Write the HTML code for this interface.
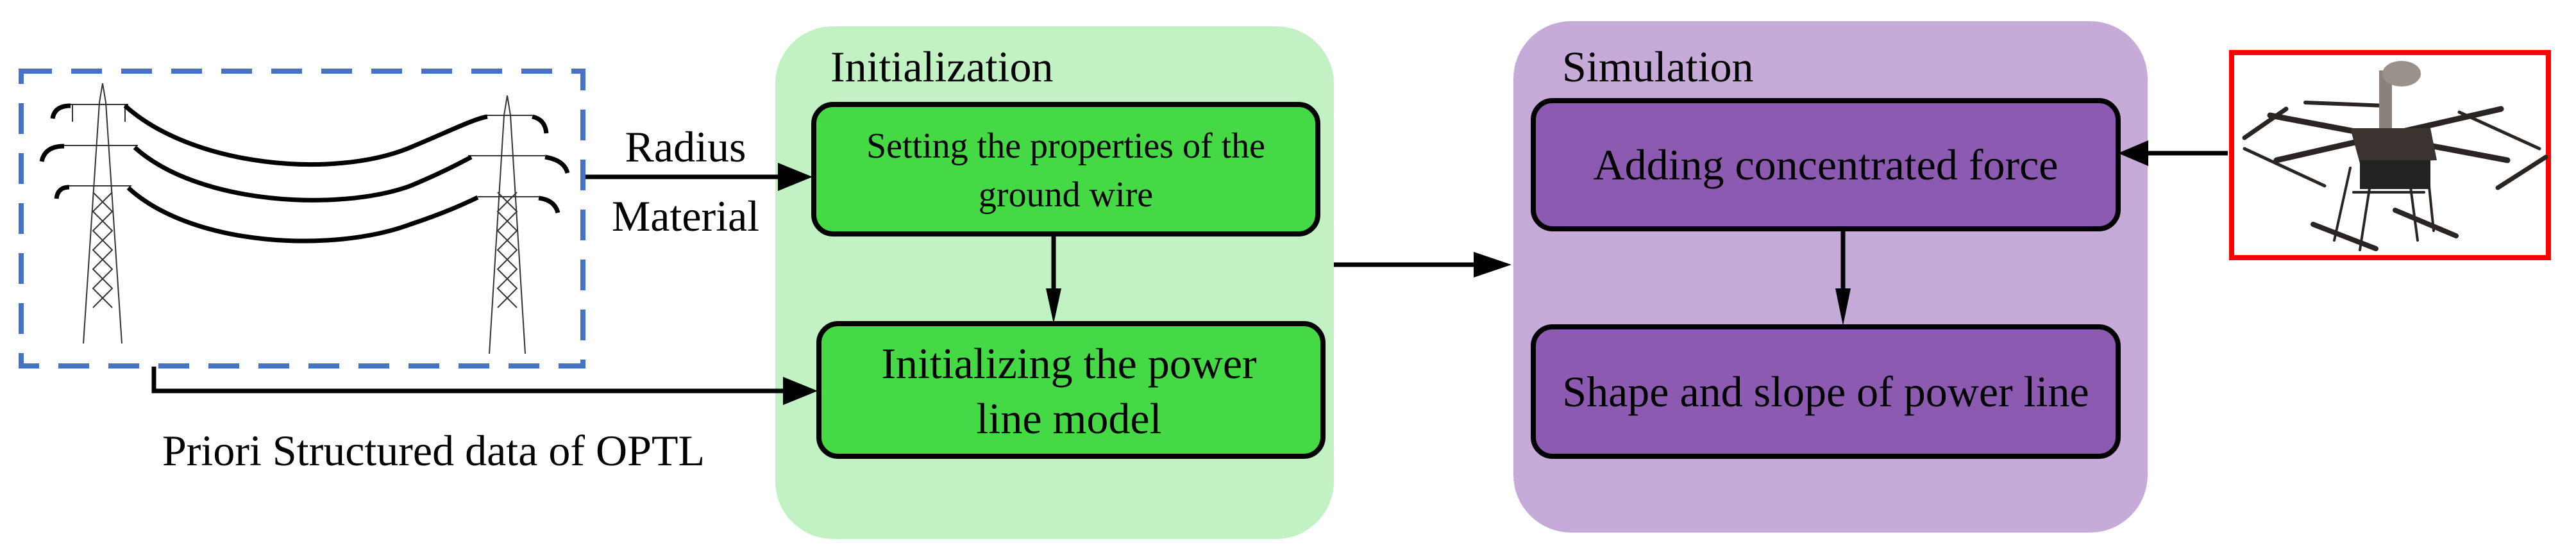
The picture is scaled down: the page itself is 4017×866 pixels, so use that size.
<!DOCTYPE html>
<html><head><meta charset="utf-8"><style>
html,body{margin:0;padding:0;background:#fff;}
svg{display:block;}
</style></head><body>
<svg width="4017" height="866" viewBox="0 0 4017 866" xmlns="http://www.w3.org/2000/svg" font-family="Liberation Serif, serif">
<rect x="1209" y="41" width="871" height="800" rx="90" fill="#c2f1c3"/>
<rect x="2360" y="33" width="989" height="798" rx="90" fill="#c6aad8"/>
<text x="1295" y="127" font-size="68" font-family="Liberation Serif, serif">Initialization</text>
<text x="2436" y="127" font-size="68" font-family="Liberation Serif, serif">Simulation</text>
<rect x="1269" y="163" width="786" height="202" rx="30" fill="#45d945" stroke="#000" stroke-width="8"/>
<text x="1662" y="246" font-size="56" text-anchor="middle" font-family="Liberation Serif, serif">Setting the properties of the</text>
<text x="1662" y="322" font-size="56" text-anchor="middle" font-family="Liberation Serif, serif">ground wire</text>
<rect x="1277" y="505" width="786" height="207" rx="30" fill="#45d945" stroke="#000" stroke-width="8"/>
<text x="1667" y="590" font-size="68" text-anchor="middle" font-family="Liberation Serif, serif">Initializing the power</text>
<text x="1667" y="676" font-size="68" text-anchor="middle" font-family="Liberation Serif, serif">line model</text>
<rect x="2391" y="157" width="912" height="200" rx="30" fill="#8d5ab1" stroke="#000" stroke-width="8"/>
<text x="2847" y="280" font-size="68" text-anchor="middle" font-family="Liberation Serif, serif">Adding concentrated force</text>
<rect x="2391" y="510" width="912" height="202" rx="30" fill="#8d5ab1" stroke="#000" stroke-width="8"/>
<text x="2847" y="634" font-size="68" text-anchor="middle" font-family="Liberation Serif, serif">Shape and slope of power line</text>
<g stroke="#000" stroke-width="7" fill="none">
<line x1="908" y1="276" x2="1215" y2="276"/>
<polyline points="240,572 240,610 1225,610"/>
<line x1="1643" y1="366" x2="1643" y2="460"/>
<line x1="2080" y1="413" x2="2310" y2="413"/>
<line x1="2874" y1="359" x2="2874" y2="460"/>
<line x1="3474" y1="239" x2="3345" y2="239"/>
</g>
<g fill="#000">
<polygon points="1267,276 1213,254 1213,298"/>
<polygon points="1275,610 1221,588 1221,632"/>
<polygon points="1643,505 1631,450 1655,450"/>
<polygon points="2357,413 2298,393 2298,433"/>
<polygon points="2874,508 2862,450 2886,450"/>
<polygon points="3303,239 3350,219 3350,259"/>
</g>
<text x="1069" y="252" font-size="68" text-anchor="middle" font-family="Liberation Serif, serif">Radius</text>
<text x="1069" y="360" font-size="68" text-anchor="middle" font-family="Liberation Serif, serif">Material</text>
<text x="676" y="726" font-size="68" text-anchor="middle" font-family="Liberation Serif, serif">Priori Structured data of OPTL</text>
<rect x="33" y="111" width="876" height="460" fill="none" stroke="#4472c4" stroke-width="8" stroke-dasharray="48,30"/>
<g stroke="#333" stroke-width="2" fill="none">
<polyline points="130,536 155,160 160,130 165,160 190,536"/>
<polyline points="145,300 175,330 145,360 175,390 145,420 175,450 145,480"/>
<polyline points="175,300 145,330 175,360 145,390 175,420 145,450 175,480"/>
<line x1="110" y1="163" x2="200" y2="163"/><line x1="100" y1="227" x2="215" y2="227"/><line x1="105" y1="290" x2="205" y2="290"/>
<line x1="113" y1="163" x2="113" y2="190"/><line x1="195" y1="163" x2="195" y2="190"/>
<polyline points="763,552 786,180 791,149 796,180 819,552"/>
<polyline points="776,300 806,330 776,360 806,390 776,420 806,450 776,480"/>
<polyline points="806,300 776,330 806,360 776,390 806,420 776,450 806,480"/>
<line x1="755" y1="180" x2="830" y2="180"/><line x1="730" y1="243" x2="850" y2="243"/><line x1="745" y1="307" x2="840" y2="307"/>
</g>
<g stroke="#000" stroke-width="7" fill="none">
<path d="M195,165 C300,260 520,280 640,230 C700,205 740,185 760,182"/>
<path d="M210,230 C310,320 530,330 640,290 C700,265 725,250 735,245"/>
<path d="M200,293 C300,385 520,395 640,350 C700,330 730,315 745,308"/>
<path d="M82,185 Q85,165 110,165"/><path d="M65,252 Q70,228 100,228"/><path d="M88,310 Q90,292 108,292"/>
<path d="M830,182 Q850,186 852,208"/><path d="M850,245 Q880,250 885,270"/><path d="M840,309 Q865,312 870,332"/>
</g>
<rect x="3480" y="82" width="494" height="320" fill="#fff" stroke="#f00" stroke-width="8"/>
<g stroke="#2a2522" stroke-linecap="round" fill="none">
<line x1="3540" y1="180" x2="3910" y2="250" stroke-width="9"/>
<line x1="3550" y1="250" x2="3900" y2="170" stroke-width="9"/>
<line x1="3500" y1="215" x2="3565" y2="170" stroke-width="7"/>
<line x1="3500" y1="232" x2="3625" y2="290" stroke-width="5"/>
<line x1="3835" y1="175" x2="3960" y2="232" stroke-width="5"/>
<line x1="3895" y1="293" x2="3970" y2="245" stroke-width="7"/>
<line x1="3595" y1="160" x2="3720" y2="165" stroke-width="6"/>
<line x1="3670" y1="300" x2="3780" y2="300" stroke-width="4"/>
<line x1="3665" y1="262" x2="3640" y2="375" stroke-width="4"/>
<line x1="3700" y1="262" x2="3680" y2="390" stroke-width="4"/>
<line x1="3755" y1="262" x2="3770" y2="375" stroke-width="4"/>
<line x1="3785" y1="262" x2="3795" y2="360" stroke-width="4"/>
<line x1="3607" y1="350" x2="3705" y2="388" stroke-width="8"/>
<line x1="3735" y1="328" x2="3830" y2="368" stroke-width="8"/>
</g>
<polygon points="3665,200 3790,200 3800,250 3680,255" fill="#3a3330"/>
<rect x="3680" y="250" width="110" height="45" fill="#222"/>
<rect x="3710" y="110" width="20" height="90" fill="#8a817a"/>
<ellipse cx="3745" cy="115" rx="30" ry="20" fill="#9a928a"/>
</svg>
</body></html>
